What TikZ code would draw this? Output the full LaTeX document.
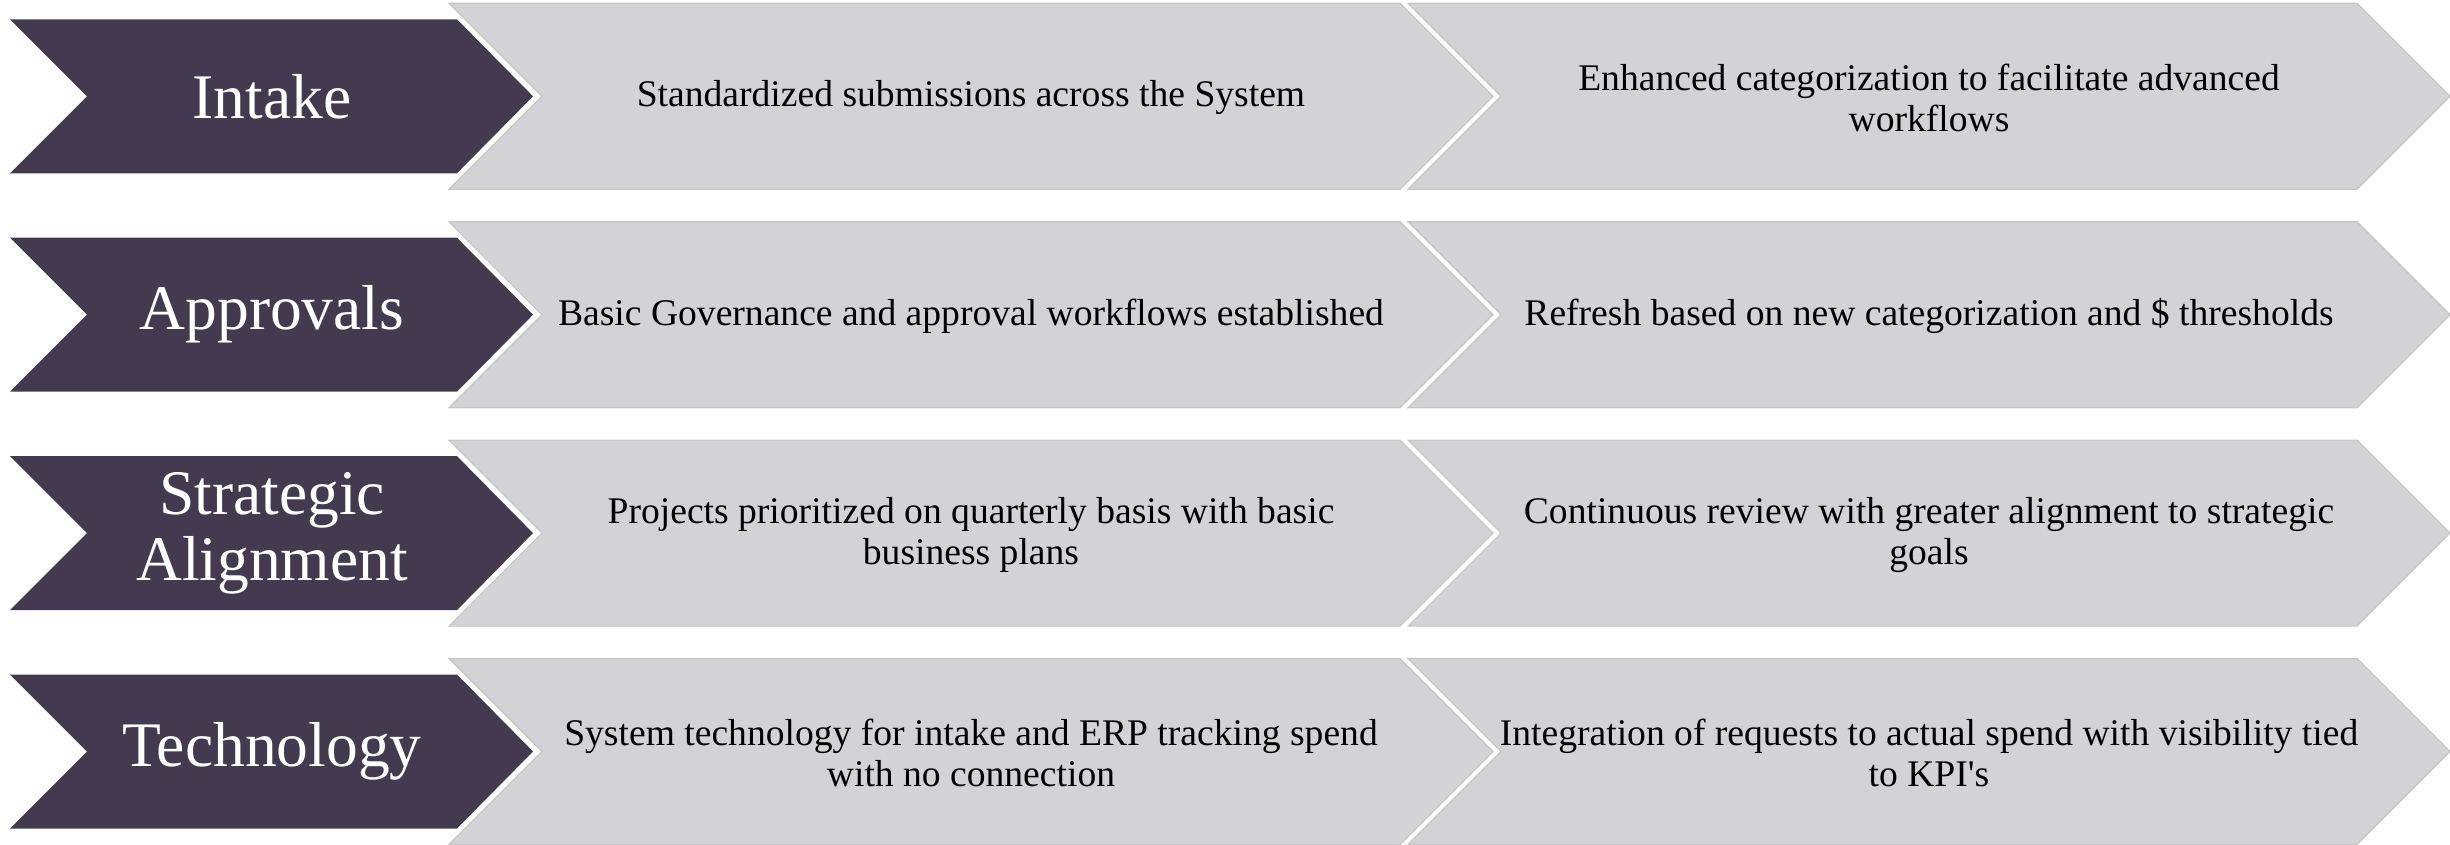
\documentclass[tikz,border=0pt]{standalone}
\usepackage{fontspec}
\setmainfont{Liberation Serif}
\definecolor{plum}{HTML}{443A4F}
\definecolor{chev}{HTML}{D3D3D5}
\definecolor{chevline}{HTML}{C6C6C9}
\begin{document}
\begin{tikzpicture}[x=1pt,y=-1pt,
  headshape/.style={fill=plum},
  stepshape/.style={fill=chev,draw=chevline,line width=1.2pt,line join=miter},
  headtext/.style={text=white,align=center,inner sep=0pt,
    font=\fontsize{63.5}{66}\selectfont},
  steptext/.style={text=black,align=center,inner sep=0pt,
    font=\fontsize{37.6}{41}\selectfont}]
\useasboundingbox (0,0) rectangle (2450,844);
\foreach \i/\head/\first/\second in {
  1/{Intake}/{Standardized submissions across the System}/{Enhanced categorization to facilitate advanced\\workflows},
  2/{Approvals}/{Basic Governance and approval workflows established}/{Refresh based on new categorization and \$ thresholds},
  3/{Strategic\\Alignment}/{Projects prioritized on quarterly basis with basic\\business plans}/{Continuous review with greater alignment to strategic\\goals},
  4/{Technology}/{System technology for intake and ERP tracking spend\\with no connection}/{Integration of requests to actual spend with visibility tied\\to KPI\textquotesingle s}}{
  \pgfmathsetmacro\T{3.3+218.4*(\i-1)}
  \pgfmathsetmacro\B{\T+186}
  \pgfmathsetmacro\M{\T+93}
  \pgfmathsetmacro\HT{\T+16}
  \pgfmathsetmacro\HB{\T+170}
  % second step chevron
  \path[stepshape] (1408,\T) -- (2357,\T) -- (2450,\M) -- (2357,\B)
    -- (1408,\B) -- (1501,\M) -- cycle;
  % first step chevron
  \path[stepshape] (449,\T) -- (1400,\T) -- (1493,\M) -- (1400,\B)
    -- (449,\B) -- (542,\M) -- cycle;
  % heading chevron
  \path[headshape] (10,\HT) -- (457,\HT) -- (533,\M) -- (457,\HB)
    -- (10,\HB) -- (87,\M) -- cycle;
  \node[headtext] (head\i) at (272,\M) {\head};
  \node[steptext] (first\i) at (971,\M+1.5) {\first};
  \node[steptext] (second\i) at (1929,\M+1.5) {\second};
}
\end{tikzpicture}
\end{document}
